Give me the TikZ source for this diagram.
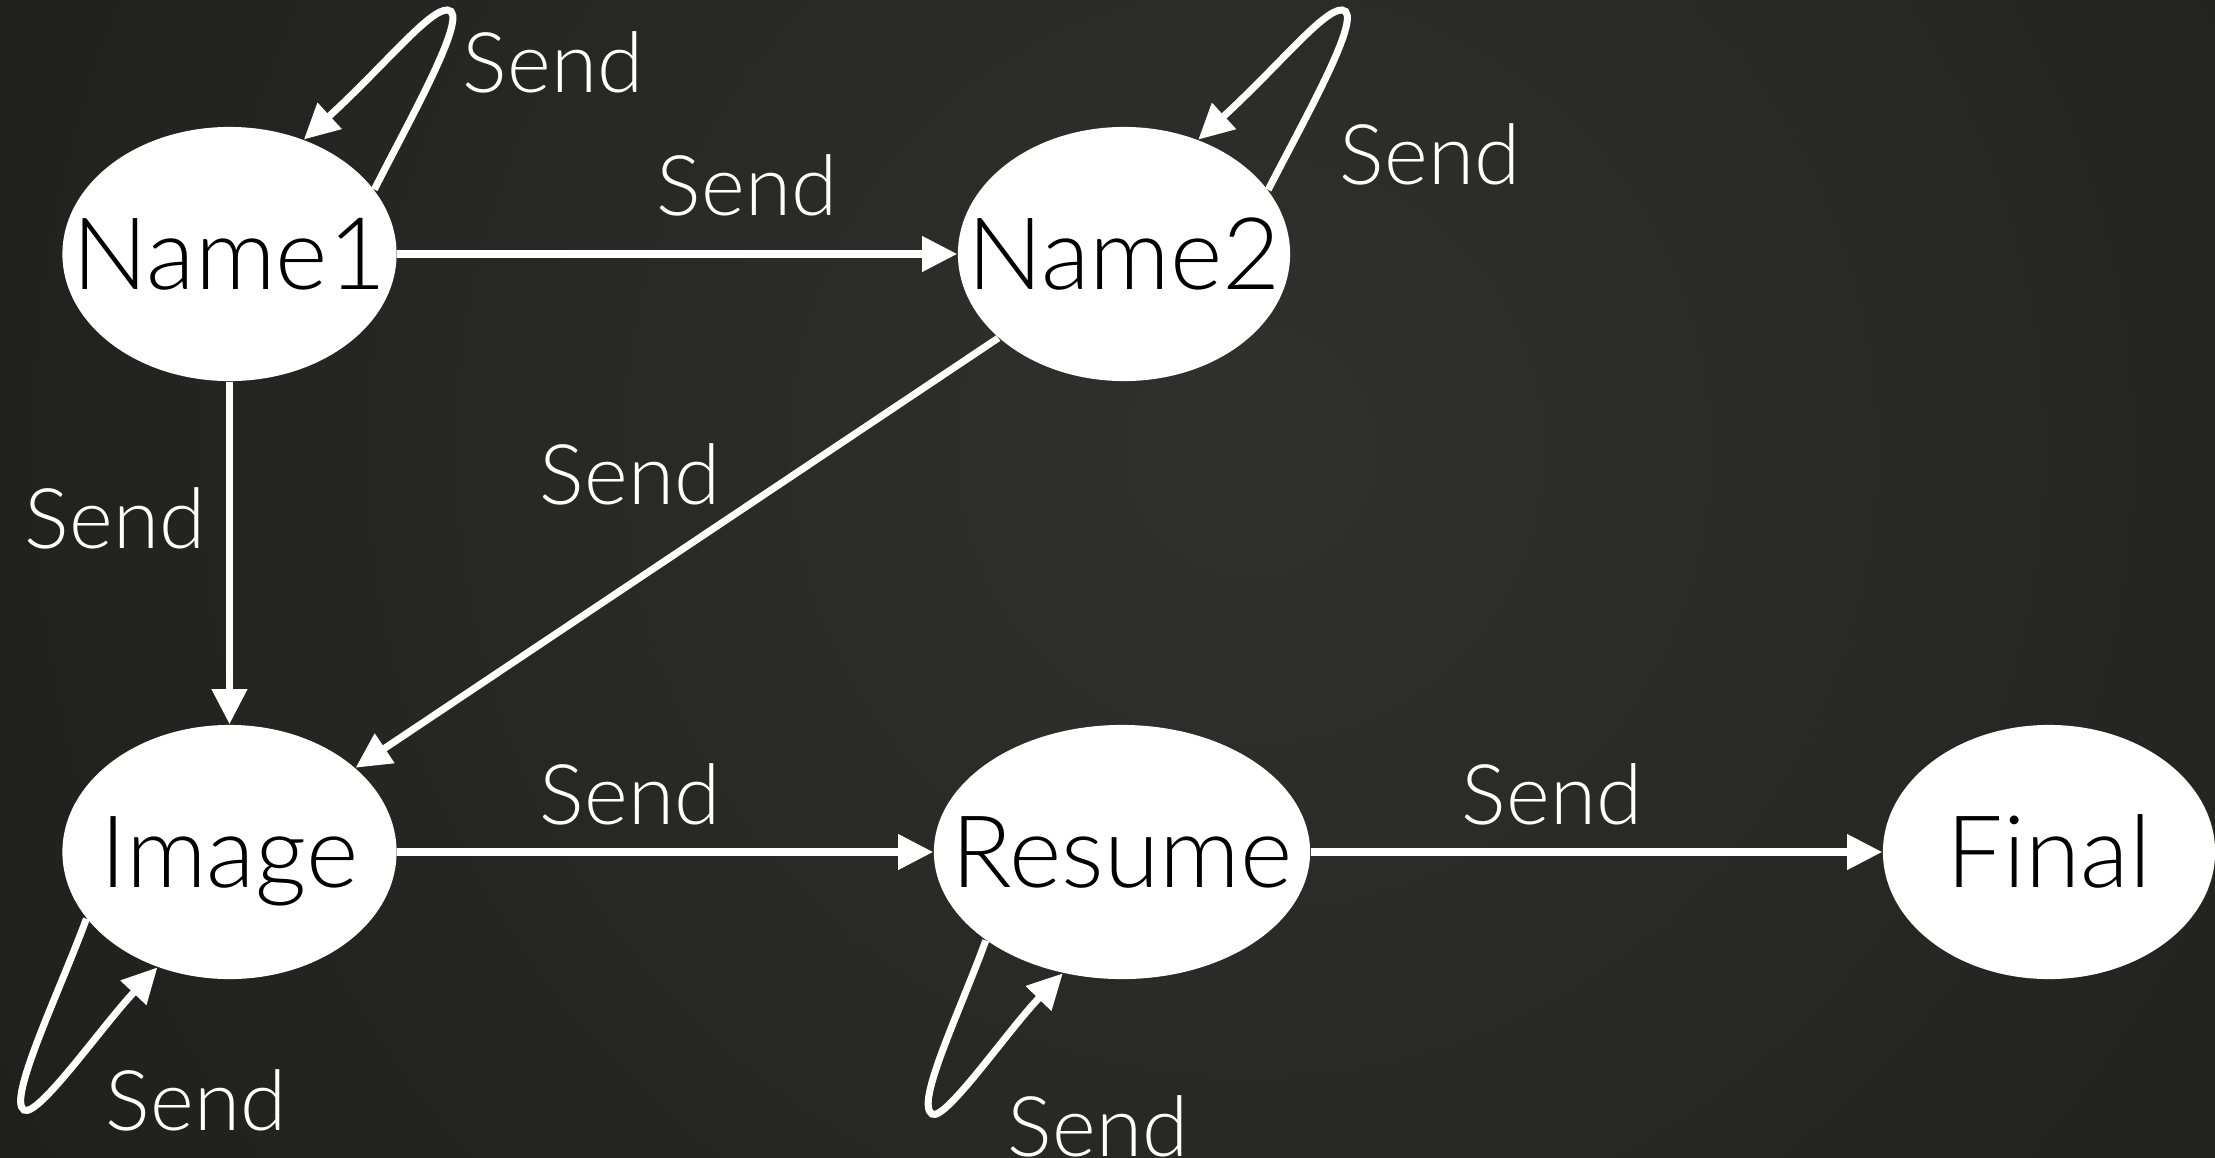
\documentclass[tikz,border=0pt]{standalone}
\usepackage{fontspec}
\setmainfont{Lato Light}
\usetikzlibrary{shapes.geometric,arrows.meta,calc}
\definecolor{bgin}{RGB}{48,49,46}
\definecolor{bgout}{RGB}{17,17,17}
\newcommand{\stxt}[1]{\makebox[0pt][c]{#1}}
\begin{document}
\begin{tikzpicture}[x=0.01cm,y=-0.01cm,
  stnode/.style={ellipse, fill=white, draw=none, inner sep=0pt, minimum height=2.54cm,
    text=black, font=\fontsize{28.5}{31}\selectfont, text height=20pt, text depth=0pt},
  tr/.style={draw=white, line width=2pt, -{Triangle[length=0.35cm,width=0.34cm]}},
  lbl/.style={text=white, font=\fontsize{23.8}{26}\selectfont, anchor=base, inner sep=0pt}]
\begin{scope}
  \clip (0,0) rectangle (2215,1157);
  \shade[inner color=bgin, outer color=bgout] (1250,450) circle [radius=2600];
\end{scope}
\useasboundingbox (0,0) rectangle (2215,1157);

\node[stnode, minimum width=3.34cm] (n1) at (229.5,254) {\stxt{Name1}};
\node[stnode, minimum width=3.32cm] (n2) at (1124,254) {\stxt{Name2}};
\node[stnode, minimum width=3.34cm] (img) at (229.5,852) {\stxt{Image}};
\node[stnode, minimum width=3.76cm] (res) at (1122,852) {\stxt{Resume}};
\node[stnode, minimum width=3.32cm] (fin) at (2049,852) {\stxt{Final}};

\draw[tr] (n1) -- (n2);
\draw[tr] (n1) -- (img);
\draw[tr] (n2) -- (img);
\draw[tr] (img) -- (res);
\draw[tr] (res) -- (fin);

\draw[tr] (n1.24) .. controls ($(n1.center)+(180.5,-135)$) and ($(n1.center)+(242,-243)$) .. ($(n1.center)+(218,-244)$)
  .. controls ($(n1.center)+(200,-245)$) and ($(n1.center)+(155.5,-189)$) .. (n1.57);
\draw[tr] (n2.24) .. controls ($(n2.center)+(180.5,-135)$) and ($(n2.center)+(242,-243)$) .. ($(n2.center)+(218,-244)$)
  .. controls ($(n2.center)+(200,-245)$) and ($(n2.center)+(155.5,-189)$) .. (n2.57);
\draw[tr] (img.205) .. controls ($(img.center)+(-170.5,141)$) and ($(img.center)+(-222.5,248)$) .. ($(img.center)+(-205.5,258)$)
  .. controls ($(img.center)+(-191.5,266)$) and ($(img.center)+(-127.5,174)$) .. (img.238);
\draw[tr] (res.213) .. controls ($(res.center)+(-163.5,163)$) and ($(res.center)+(-207,251.6)$) .. ($(res.center)+(-190,262)$)
  .. controls ($(res.center)+(-177,270)$) and ($(res.center)+(-114,178)$) .. (res.244);

\node[lbl] (l1) at (553,92) {Send};
\node[lbl] (l2) at (747,215) {Send};
\node[lbl] (l3) at (1430,184) {Send};
\node[lbl] (l4) at (115,548) {Send};
\node[lbl] (l5) at (630,504) {Send};
\node[lbl] (l6) at (630,824) {Send};
\node[lbl] (l7) at (1552,824) {Send};
\node[lbl] (l8) at (196,1130) {Send};
\node[lbl] (l9) at (1098,1156) {Send};
\end{tikzpicture}
\end{document}
